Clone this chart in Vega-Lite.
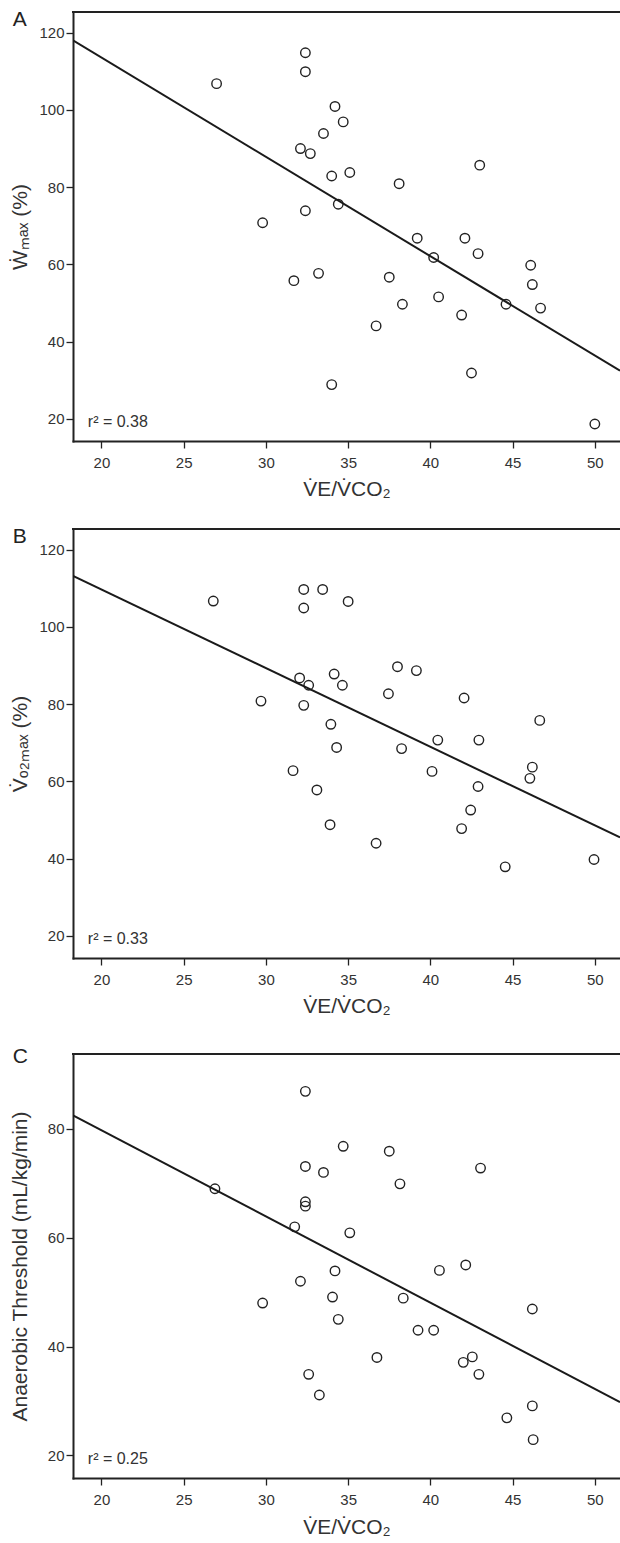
{
  "$schema": "https://vega.github.io/schema/vega-lite/v6.json",
  "padding": {"left": 9, "top": 8, "right": 0, "bottom": 0},
  "spacing": 27,
  "config": {
    "view": {"stroke": null},
    "font": "Liberation Sans",
    "axis": {
      "grid": false,
      "labelFont": "Liberation Sans",
      "labelFontSize": 15,
      "labelColor": "#333",
      "titleFont": "Liberation Sans",
      "titleFontSize": 21,
      "titleFontWeight": "normal",
      "titleColor": "#333",
      "tickColor": "#222",
      "tickSize": 7,
      "tickWidth": 1.3,
      "domainColor": "#222",
      "domainWidth": 2,
      "domainCap": "square"
    },
    "axisX": {"labelPadding": 7, "titlePadding": 8},
    "axisY": {"labelPadding": 2, "titlePadding": 9, "minExtent": 34, "maxExtent": 34}
  },
  "datasets": {
    "ptsA": [
      {"x": 27.0, "y": 106.8}, {"x": 32.4, "y": 114.8}, {"x": 32.4, "y": 109.9}, {"x": 34.2, "y": 100.9},
      {"x": 34.7, "y": 96.9}, {"x": 33.5, "y": 93.9}, {"x": 32.1, "y": 90.0}, {"x": 32.7, "y": 88.7},
      {"x": 34.0, "y": 82.9}, {"x": 35.1, "y": 83.8}, {"x": 38.1, "y": 80.9}, {"x": 43.0, "y": 85.7},
      {"x": 34.4, "y": 75.6}, {"x": 32.4, "y": 73.9}, {"x": 29.8, "y": 70.8}, {"x": 39.2, "y": 66.8},
      {"x": 42.1, "y": 66.8}, {"x": 40.2, "y": 61.8}, {"x": 42.9, "y": 62.8}, {"x": 46.1, "y": 59.8},
      {"x": 46.2, "y": 54.8}, {"x": 31.7, "y": 55.8}, {"x": 33.2, "y": 57.7}, {"x": 37.5, "y": 56.7},
      {"x": 40.5, "y": 51.6}, {"x": 38.3, "y": 49.7}, {"x": 44.6, "y": 49.7}, {"x": 46.7, "y": 48.7},
      {"x": 41.9, "y": 46.9}, {"x": 36.7, "y": 44.1}, {"x": 42.5, "y": 31.9}, {"x": 34.0, "y": 28.9},
      {"x": 50.0, "y": 18.7}
    ],
    "ptsB": [
      {"x": 26.8, "y": 106.7}, {"x": 32.3, "y": 109.7}, {"x": 33.45, "y": 109.7}, {"x": 32.3, "y": 104.9},
      {"x": 35.0, "y": 106.6}, {"x": 38.0, "y": 89.7}, {"x": 39.15, "y": 88.7}, {"x": 32.05, "y": 86.8},
      {"x": 34.15, "y": 87.8}, {"x": 32.6, "y": 84.9}, {"x": 34.65, "y": 84.9}, {"x": 37.45, "y": 82.7},
      {"x": 42.05, "y": 81.6}, {"x": 29.7, "y": 80.8}, {"x": 32.3, "y": 79.7}, {"x": 46.65, "y": 75.8},
      {"x": 33.95, "y": 74.8}, {"x": 40.45, "y": 70.7}, {"x": 42.95, "y": 70.7}, {"x": 34.3, "y": 68.8},
      {"x": 38.25, "y": 68.5}, {"x": 46.2, "y": 63.7}, {"x": 46.05, "y": 60.8}, {"x": 31.65, "y": 62.8},
      {"x": 40.1, "y": 62.6}, {"x": 33.1, "y": 57.8}, {"x": 42.9, "y": 58.7}, {"x": 42.45, "y": 52.6},
      {"x": 41.9, "y": 47.8}, {"x": 33.9, "y": 48.8}, {"x": 36.7, "y": 44.0}, {"x": 44.55, "y": 37.9},
      {"x": 49.95, "y": 39.8}
    ],
    "ptsC": [
      {"x": 32.4, "y": 86.9}, {"x": 34.7, "y": 76.8}, {"x": 37.5, "y": 75.9}, {"x": 43.05, "y": 72.8},
      {"x": 32.4, "y": 73.1}, {"x": 33.5, "y": 72.0}, {"x": 38.15, "y": 69.9}, {"x": 26.9, "y": 69.0},
      {"x": 32.4, "y": 66.6}, {"x": 32.4, "y": 65.8}, {"x": 31.75, "y": 62.0}, {"x": 35.1, "y": 60.9},
      {"x": 42.15, "y": 55.0}, {"x": 34.2, "y": 53.9}, {"x": 40.55, "y": 54.0}, {"x": 32.1, "y": 52.0},
      {"x": 29.8, "y": 48.0}, {"x": 34.05, "y": 49.1}, {"x": 38.35, "y": 48.9}, {"x": 46.2, "y": 46.9},
      {"x": 34.4, "y": 45.0}, {"x": 39.25, "y": 43.0}, {"x": 40.2, "y": 43.0}, {"x": 36.75, "y": 38.0},
      {"x": 42.55, "y": 38.1}, {"x": 42.0, "y": 37.1}, {"x": 32.6, "y": 34.9}, {"x": 42.95, "y": 34.9},
      {"x": 33.25, "y": 31.1}, {"x": 46.2, "y": 29.1}, {"x": 44.65, "y": 26.9}, {"x": 46.25, "y": 22.9}
    ],
    "fitA": [{"x": 18.27, "y": 118.0}, {"x": 51.53, "y": 32.5}],
    "fitB": [{"x": 18.27, "y": 113.2}, {"x": 51.53, "y": 45.5}],
    "fitC": [{"x": 18.27, "y": 82.5}, {"x": 51.53, "y": 29.8}],
    "labA": [{"label": "r² = 0.38", "panel": "A"}],
    "labB": [{"label": "r² = 0.33", "panel": "B"}],
    "labC": [{"label": "r² = 0.25", "panel": "C"}]
  },
  "vconcat": [
    {
      "width": 547,
      "height": 429,
      "layer": [
        {
          "data": {"name": "ptsA"},
          "mark": {"type": "point", "shape": "circle", "filled": false, "size": 90, "strokeWidth": 1.4, "color": "#222", "opacity": 1},
          "encoding": {
            "x": {"field": "x", "type": "quantitative", "scale": {"domain": [18.27, 51.53], "nice": false, "zero": false}, "axis": {"title": "V̇E/V̇CO₂", "values": [20, 25, 30, 35, 40, 45, 50]}},
            "y": {"field": "y", "type": "quantitative", "scale": {"domain": [14.3, 125.35], "nice": false, "zero": false}, "axis": {"title": "Ẇₘₐₓ (%)", "values": [20, 40, 60, 80, 100, 120]}}
          }
        },
        {
          "data": {"name": "fitA"},
          "mark": {"type": "line", "color": "#1a1a1a", "strokeWidth": 2, "clip": true},
          "encoding": {"x": {"field": "x", "type": "quantitative"}, "y": {"field": "y", "type": "quantitative"}}
        },
        {
          "data": {"name": "labA"},
          "mark": {"type": "text", "align": "left", "baseline": "alphabetic", "fontSize": 16, "color": "#333", "font": "Liberation Sans"},
          "encoding": {"x": {"datum": 19.17}, "y": {"datum": 17.95}, "text": {"field": "label"}}
        },
        {
          "data": {"name": "labA"},
          "mark": {"type": "text", "align": "left", "baseline": "alphabetic", "fontSize": 21, "color": "#222", "font": "Liberation Sans"},
          "encoding": {"x": {"datum": 14.6}, "y": {"datum": 121.73}, "text": {"field": "panel"}}
        },
        {
          "data": {"name": "labA"},
          "mark": {"type": "rule", "color": "#222", "strokeWidth": 2, "strokeCap": "square"},
          "encoding": {"y": {"datum": 125.35}}
        }
      ]
    },
    {
      "spacing": 30,
      "vconcat": [
        {
          "width": 547,
          "height": 429,
          "layer": [
            {
              "data": {"name": "ptsB"},
              "mark": {"type": "point", "shape": "circle", "filled": false, "size": 90, "strokeWidth": 1.4, "color": "#222", "opacity": 1},
              "encoding": {
                "x": {"field": "x", "type": "quantitative", "scale": {"domain": [18.27, 51.53], "nice": false, "zero": false}, "axis": {"title": "V̇E/V̇CO₂", "values": [20, 25, 30, 35, 40, 45, 50]}},
                "y": {"field": "y", "type": "quantitative", "scale": {"domain": [14.3, 125.35], "nice": false, "zero": false}, "axis": {"title": "V̇ₒ₂ₘₐₓ (%)", "values": [20, 40, 60, 80, 100, 120]}}
              }
            },
            {
              "data": {"name": "fitB"},
              "mark": {"type": "line", "color": "#1a1a1a", "strokeWidth": 2, "clip": true},
              "encoding": {"x": {"field": "x", "type": "quantitative"}, "y": {"field": "y", "type": "quantitative"}}
            },
            {
              "data": {"name": "labB"},
              "mark": {"type": "text", "align": "left", "baseline": "alphabetic", "fontSize": 16, "color": "#333", "font": "Liberation Sans"},
              "encoding": {"x": {"datum": 19.17}, "y": {"datum": 17.8}, "text": {"field": "label"}}
            },
            {
              "data": {"name": "labB"},
              "mark": {"type": "text", "align": "left", "baseline": "alphabetic", "fontSize": 21, "color": "#222", "font": "Liberation Sans"},
              "encoding": {"x": {"datum": 14.6}, "y": {"datum": 121.6}, "text": {"field": "panel"}}
            },
            {
              "data": {"name": "labB"},
              "mark": {"type": "rule", "color": "#222", "strokeWidth": 2, "strokeCap": "square"},
              "encoding": {"y": {"datum": 125.35}}
            }
          ]
        },
        {
          "width": 547,
          "height": 424,
          "layer": [
            {
              "data": {"name": "ptsC"},
              "mark": {"type": "point", "shape": "circle", "filled": false, "size": 90, "strokeWidth": 1.4, "color": "#222", "opacity": 1},
              "encoding": {
                "x": {"field": "x", "type": "quantitative", "scale": {"domain": [18.27, 51.53], "nice": false, "zero": false}, "axis": {"title": "V̇E/V̇CO₂", "titlePadding": 9, "values": [20, 25, 30, 35, 40, 45, 50]}},
                "y": {"field": "y", "type": "quantitative", "scale": {"domain": [15.85, 93.76], "nice": false, "zero": false}, "axis": {"title": "Anaerobic Threshold (mL/kg/min)", "values": [20, 40, 60, 80]}}
              }
            },
            {
              "data": {"name": "fitC"},
              "mark": {"type": "line", "color": "#1a1a1a", "strokeWidth": 2, "clip": true},
              "encoding": {"x": {"field": "x", "type": "quantitative"}, "y": {"field": "y", "type": "quantitative"}}
            },
            {
              "data": {"name": "labC"},
              "mark": {"type": "text", "align": "left", "baseline": "alphabetic", "fontSize": 16, "color": "#333", "font": "Liberation Sans"},
              "encoding": {"x": {"datum": 19.17}, "y": {"datum": 18.4}, "text": {"field": "label"}}
            },
            {
              "data": {"name": "labC"},
              "mark": {"type": "text", "align": "left", "baseline": "alphabetic", "fontSize": 21, "color": "#222", "font": "Liberation Sans"},
              "encoding": {"x": {"datum": 14.6}, "y": {"datum": 92.1}, "text": {"field": "panel"}}
            },
            {
              "data": {"name": "labC"},
              "mark": {"type": "rule", "color": "#222", "strokeWidth": 2, "strokeCap": "square"},
              "encoding": {"y": {"datum": 93.76}}
            }
          ]
        }
      ]
    }
  ]
}
